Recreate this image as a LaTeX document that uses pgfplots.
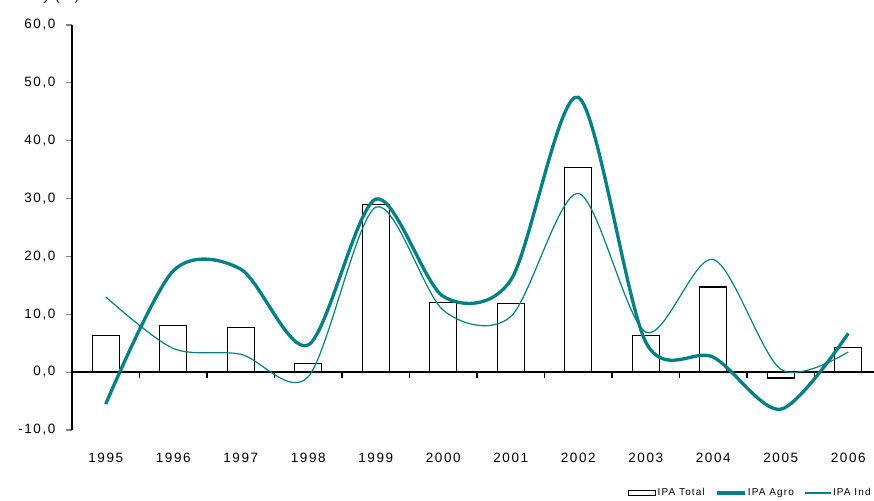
\documentclass[border=0pt]{standalone}
\usepackage{fontspec}
\setmainfont{Liberation Sans}[LetterSpace=12]
\newfontfamily\legendfont{Liberation Sans}[LetterSpace=11]
\usepackage{pgfplots}
\usepackage{pgfplotstable}
\pgfplotsset{compat=1.18}
\definecolor{ipateal}{RGB}{0,128,128}

% Annual price index variation (%), 1995-2006
\pgfplotstableread{
x  total agro  ind
0   6.4  -5.5  13.0
1   8.1  17.5   4.1
2   7.7  17.8   3.1
3   1.5   4.7  -0.8
4  29.0  29.9  28.5
5  12.0  13.1  10.7
6  11.9  15.9   9.6
7  35.4  47.5  30.9
8   6.3   5.2   6.9
9  14.7   2.6  19.5
10 -1.0  -6.4   0.5
11  4.3   6.7   3.5
}\ipadata

\pgfplotsset{
  barlegend/.style={legend image code/.code={\draw[black,line width=1pt,fill=white] (0pt,-2.5pt) rectangle (27pt,2.5pt);}},
  agrolegend/.style={legend image code/.code={\draw[ipateal,line width=3.3pt] (0pt,0pt) -- (28pt,0pt);}},
  indlegend/.style={legend image code/.code={\draw[ipateal,line width=1.2pt] (0pt,0pt) -- (26pt,0pt);}},
}

\begin{document}
\begin{tikzpicture}[x=1pt,y=1pt]
\useasboundingbox (-72,-70) rectangle (802,430);
\node[anchor=base east,font=\fontsize{13.5}{16}\selectfont] at (11,429.5) {y (\%)};
\begin{axis}[
  at={(0,0)}, anchor=south west,
  scale only axis, width=810pt, height=405pt,
  xmin=-0.5, xmax=11.5, ymin=-10, ymax=60,
  axis x line*=bottom, axis y line*=left,
  x axis line style={draw=none},
  y axis line style={line width=1.5pt},
  xtick={0,...,11},
  xticklabels={1995,1996,1997,1998,1999,2000,2001,2002,2003,2004,2005,2006},
  xtick style={draw=none},
  xticklabel style={yshift=-14pt},
  ytick={-10,0,...,60},
  tick align=outside,
  ytick style={line width=1.2pt},
  major tick length=6pt,
  yticklabel style={xshift=-7pt},
  tick label style={font=\fontsize{13.5}{16}\selectfont},
  /pgf/number format/.cd, fixed, fixed zerofill, precision=1, use comma, assume math mode=true,
  /pgfplots/.cd,
  legend style={draw=none, fill=none, at={(axis description cs:0.6864,-0.1556)}, anchor=west,
    inner sep=0pt, font=\legendfont\fontsize{10}{12}\selectfont, legend columns=3,
    /tikz/every even column/.append style={column sep=9pt},
    /tikz/every odd column/.append style={column sep=0pt},
    nodes={inner sep=1.5pt}},
]
\addplot[ybar, bar width=27pt, fill=white, draw=black, line width=1.2pt, barlegend]
  table[x=x,y=total]{\ipadata};
\addlegendentry{IPA Total}
\draw[line width=1.5pt] (axis cs:-0.5,0) -- (axis cs:11.5,0);
\pgfplotsinvokeforeach{0.5,1.5,2.5,3.5,4.5,5.5,6.5,7.5,8.5,9.5,10.5}{
  \draw[line width=1.2pt] (axis cs:#1,0) -- ++(0pt,-6pt);
}
\addplot[ipateal, line width=3.3pt, smooth, tension=0.5, agrolegend]
  table[x=x,y=agro]{\ipadata};
\addlegendentry{IPA Agro}
\addplot[ipateal, line width=1.2pt, smooth, tension=0.5, indlegend]
  table[x=x,y=ind]{\ipadata};
\addlegendentry{IPA Ind}
\end{axis}
\end{tikzpicture}
\end{document}
